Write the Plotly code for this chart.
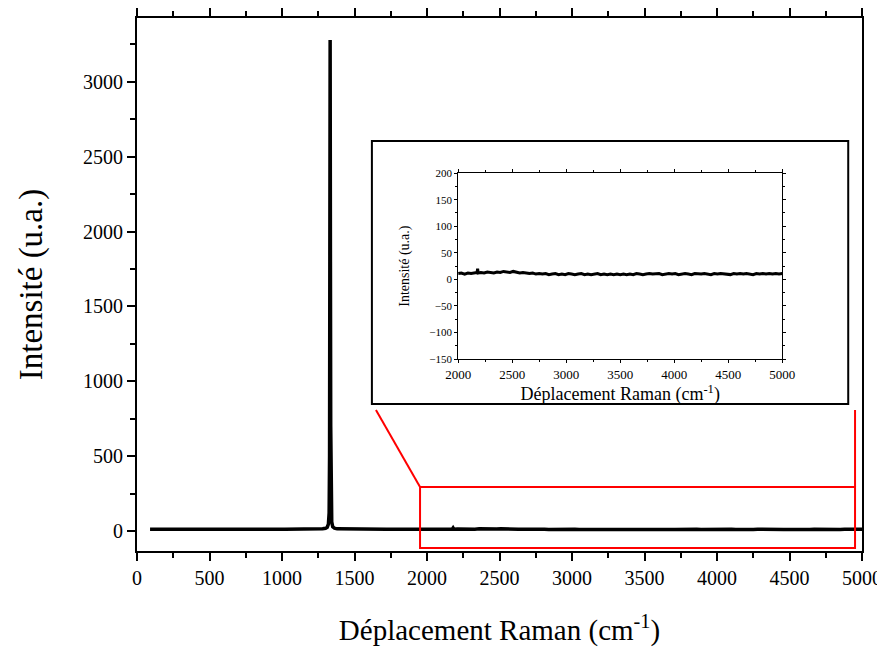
import plotly.graph_objects as go

# Raman spectrum
shift = [90, 150, 220, 300, 380, 460, 540, 620, 700, 780, 860, 940, 1020, 1100, 1180,
         1240, 1280, 1300, 1312, 1320, 1325, 1328, 1330, 1331, 1332, 1333, 1334, 1336,
         1339, 1343, 1350, 1362, 1380, 1420, 1480, 1560, 1640, 1720, 1800, 1880, 1960,
         2000, 2030, 2060, 2090, 2120, 2150, 2175, 2180, 2185, 2210, 2240, 2270, 2300,
         2330, 2360, 2390, 2420, 2450, 2480, 2510, 2540, 2570, 2600, 2630, 2660, 2690,
         2720, 2750, 2780, 2810, 2840, 2870, 2900, 2930, 2960, 2990, 3020, 3050, 3080,
         3110, 3140, 3170, 3200, 3230, 3260, 3290, 3320, 3350, 3380, 3410, 3440, 3470,
         3500, 3530, 3560, 3590, 3620, 3650, 3680, 3710, 3740, 3770, 3800, 3830, 3860,
         3890, 3920, 3950, 3980, 4010, 4040, 4070, 4100, 4130, 4160, 4190, 4220, 4250,
         4280, 4310, 4340, 4370, 4400, 4430, 4460, 4490, 4520, 4550, 4580, 4610, 4640,
         4670, 4700, 4730, 4760, 4790, 4820, 4850, 4880, 4910, 4940, 4970, 5000]
intensity = [12, 11, 12, 11, 12, 11, 12, 11, 12, 12, 11, 12, 12, 12, 13,
             13, 15, 18, 25, 45, 120, 500, 1700, 2700, 3280, 2800, 1800, 700,
             180, 60, 28, 18, 14, 13, 12, 12, 12, 11, 12, 12, 12,
             11, 12, 10, 12, 11, 12, 13, 20, 12, 13, 12, 14, 13,
             12, 14, 13, 15, 14, 13, 15, 13, 12, 13, 12, 11, 12,
             10, 11, 10, 11, 9, 10, 11, 9, 10, 9, 11, 10, 9,
             10, 11, 9, 10, 9, 10, 11, 9, 10, 9, 10, 9, 10,
             9, 10, 9, 10, 9, 11, 10, 9, 10, 11, 10, 10, 11,
             9, 10, 11, 10, 11, 9, 10, 11, 10, 9, 11, 10, 10,
             11, 10, 9, 11, 10, 11, 10, 10, 9, 11, 10, 11, 10,
             11, 10, 9, 11, 10, 11, 10, 11, 10, 11, 10, 11]

# inset slice: 2000-5000
ins_x = [x for x in shift if x >= 2000]
ins_y = [intensity[i] for i, x in enumerate(shift) if x >= 2000]

font = "Times New Roman, Liberation Serif, serif"

fig = go.Figure()
fig.add_trace(go.Scatter(x=shift, y=intensity, mode='lines',
                         line=dict(color='black', width=3.5), showlegend=False))
fig.add_trace(go.Scatter(x=ins_x, y=ins_y, mode='lines', xaxis='x2', yaxis='y2',
                         line=dict(color='black', width=3), showlegend=False))

# zoom box and connecting lines
fig.add_shape(type='rect', x0=1952, x1=4952, y0=-114, y1=294,
              line=dict(color='red', width=2), xref='x', yref='y')
fig.add_shape(type='line', x0=1648, y0=808, x1=1952, y1=294,
              line=dict(color='red', width=2), xref='x', yref='y')
fig.add_shape(type='line', x0=4952, y0=808, x1=4952, y1=294,
              line=dict(color='red', width=2), xref='x', yref='y')

# inset frame
fig.add_shape(type='rect', x0=0.324, x1=0.981, y0=0.276, y1=0.769,
              xref='paper', yref='paper', fillcolor='white',
              line=dict(color='black', width=2), layer='below')

main_ax = dict(showgrid=False, zeroline=False, showline=True, linecolor='black',
               linewidth=2, ticks='outside', ticklen=8, tickwidth=2, automargin=False,
               tickcolor='black', tickfont=dict(family=font, size=20, color='black'))
ins_ax = dict(showgrid=False, zeroline=False, showline=True, linecolor='black',
              linewidth=1, mirror='allticks', ticks='outside', ticklen=3, automargin=False,
              tickcolor='black', tickfont=dict(family=font, size=11, color='black'))

# page body has an 8px margin, so the figure is shifted by 8px
fig.update_layout(
    width=877, height=640,
    margin=dict(l=129, r=23, t=10, b=97),
    plot_bgcolor='white', paper_bgcolor='white',
    font=dict(family=font, color='black'),
    xaxis=dict(main_ax, range=[0, 5000], dtick=500, mirror='allticks',
               minor=dict(ticks='outside', dtick=250, ticklen=5, tickwidth=1.5, tickcolor='black'),
               title=dict(text='Déplacement Raman (cm<sup>-1</sup>)',
                          font=dict(family=font, size=29), standoff=32)),
    yaxis=dict(main_ax, range=[-134, 3427], dtick=500, mirror=True,
               minor=dict(ticks='outside', dtick=250, ticklen=5, tickwidth=1.5, tickcolor='black'),
               title=dict(text='Intensité (u.a.)', font=dict(family=font, size=33), standoff=30)),
    xaxis2=dict(ins_ax, domain=[0.443, 0.890], anchor='y2', range=[2000, 5000], dtick=500,
                tickfont=dict(family=font, size=13, color='black'),
                minor=dict(ticks='outside', dtick=250, ticklen=2, tickcolor='black'),
                title=dict(text='Déplacement Raman (cm<sup>-1</sup>)',
                           font=dict(family=font, size=18), standoff=2)),
    yaxis2=dict(ins_ax, domain=[0.360, 0.709], anchor='x2', range=[-150, 200], dtick=50,
                minor=dict(ticks='outside', dtick=25, ticklen=2, tickcolor='black'),
                title=dict(text='Intensité (u.a.)', font=dict(family=font, size=14), standoff=16)),
)

fig.write_html("out.html")
